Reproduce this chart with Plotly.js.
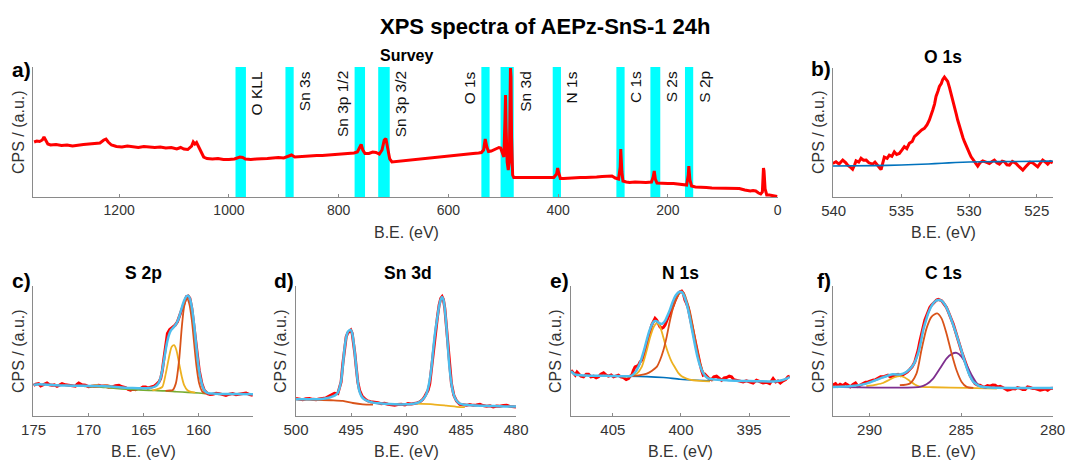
<!DOCTYPE html>
<html>
<head>
<meta charset="utf-8">
<script src="https://cdn.plot.ly/plotly-3.0.1.min.js"></script>
<style>
  html, body { margin: 0; padding: 0; background: #ffffff; }
  #chart { width: 1069px; height: 461px; }
</style>
</head>
<body>
<div id="chart"></div>
<script>
// ---------------- Survey spectrum ----------------
const surveyBE = [1355,1350,1345,1340,1337,1334,1330,1325,1315,1305,1295,1285,1275,1265,1255,1245,1235,1228,1224,1220,1214,1205,1195,1185,1175,1165,1155,1145,1135,1125,1115,1105,1095,1088,1082,1075,1068,1065,1062,1059,1055,1050,1046,1040,1030,1020,1010,1000,990,980,975,970,960,950,940,930,920,910,900,892,886,880,870,860,850,840,830,820,810,800,790,780,772,766,762,759,756,752,745,738,732,726,721,717,714,711,707,703,695,685,675,665,655,645,635,625,615,605,595,585,575,565,555,545,540,536,533,530,527,522,517,512,508,505,502,499,497,496,495,493,491,489,487,486,485,483,481,475,465,455,445,435,425,415,408,403,401,399,396,390,380,370,360,350,340,330,320,310,302,296,290,287,286,284,282,276,270,260,250,240,230,227,225,223,220,212,200,190,180,172,166,163,162,160,157,150,140,130,120,110,100,90,80,70,60,50,45,40,35,31,28,26,25,23,20,15,10,5,1];
const surveyCPS = [55,56,55.5,57,60,57,53,52,52.5,51.5,52,51,52,52.5,53,53.5,54,57,58,55,52,50.5,50,51,50,49.5,50.5,50,49.5,50,49,49.5,48,49.5,48,47.5,51,55,53,54.5,50,44,40,38.5,38,38.5,37.5,37.5,38,40,39.5,38,37.5,38,38,38.5,39,39.5,39,40.5,42,40,40.5,41,41,41.5,41.5,42,42,43,43.5,44,44,45,49,52.5,47,43.5,43.5,45,44.5,43,47,57,58.5,49,38,35,35.5,35.5,36.5,37,37.5,38,38.5,39.5,40,40.5,41,42,42.5,43,43.5,44,44.5,47,58,50,45.5,46,47,48,49.5,49,45,40,78,102,70,35,27,35,129,120,60,22,19.5,19.5,19,19.5,19,19.5,19,19,19.5,23,29,24,18.5,18.5,19,19,19.5,19.5,19.5,20,20.5,21,21,19,18,30,48,25,16,15,14.5,15,14.5,14.5,15,20,26,18,14,13.5,13.5,13.5,13,12.5,12,22,31,17,11,10,10,9.5,9,9,8.5,8.5,8.5,8.5,7,6,6.5,6,4,3,5,29,26,8,2,2,1.5,1,0.5];

// Marked regions of the survey (binding-energy windows) and their labels
const bandLabels = ['O KLL','Sn 3s','Sn 3p 1/2','Sn 3p 3/2','O 1s','Sn 3d','N 1s','C 1s','S 2s','S 2p'];
const bandHighBE = [988,897,771,728,540,505,410,294,232,169];
const bandLowBE  = [969,882,752,707,525,481,395,279,214,154];

// ---------------- O 1s ----------------
const o1sBE = [540.07,539.83,539.6,539.33,539.1,538.97,538.75,538.6,538.45,538.35,538.15,537.98,537.8,537.6,537.4,537.12,536.95,536.75,536.6,536.5,536.38,536.26,536.05,535.89,535.7,535.52,535.35,535.15,534.95,534.78,534.6,534.41,534.2,534.04,533.85,533.67,533.5,533.3,533.1,532.93,532.8,532.68,532.55,532.44,532.3,532.19,532.05,531.95,531.82,531.75,531.65,531.58,531.45,531.33,531.2,531.08,530.95,530.84,530.7,530.59,530.45,530.34,530.2,530.1,529.95,529.85,529.7,529.61,529.5,529.36,529.2,528.99,528.75,528.5,528.3,528.13,527.95,527.76,527.55,527.39,527.2,527.02,526.8,526.53,526.3,526.03,525.85,525.67,525.5,525.3,525.1,524.93,524.75,524.56,524.35,524.19,524.0,523.82];
const o1sCPS = [26,27.3,25.5,28.6,26.5,24.7,23,21.5,25,28,27,30,28.5,28.6,26.5,25.5,27,24,22.5,21.3,26,31,30,32.5,31.5,35,33,33.8,36.5,39,37.5,41.6,43,46.8,48.5,50.6,52,53.2,56,59.7,63,67.5,72,78,82,85.7,88,91,93,92,91,89.6,85,80.5,75,70,64.5,59.7,54,49.4,46,42.9,39,36.4,33.5,31.2,29,27.3,25.5,24,26.5,28,27,26,27.5,28.6,26.5,25.5,27.8,27.3,25,24.7,27.5,26,23.5,20.8,23,24.7,27,26.5,24.5,23.4,26,28.6,27,25.5,27.5,26.5];
const o1sBgBE  = [540.07,537,535,533,532,531,530,528,523.82];
const o1sBgCPS = [24,24.3,24.8,25.6,26.2,26.7,27.1,27.4,27.8];

// ---------------- S 2p ----------------
const s2pBE = [175.0,174.8,174.54,174.35,174.24,174.0,173.78,173.55,173.33,173.1,172.87,172.65,172.41,172.1,171.81,171.5,171.2,171.05,170.89,170.6,170.28,170.0,169.68,169.4,169.07,168.8,168.46,168.15,167.85,167.55,167.24,166.95,166.63,166.4,166.18,165.95,165.72,165.5,165.26,165.05,164.81,164.6,164.35,164.2,164.05,163.9,163.74,163.6,163.44,163.29,163.13,162.98,162.83,162.62,162.37,162.13,161.92,161.77,161.52,161.31,161.1,160.94,160.79,160.61,160.4,160.18,159.94,159.7,159.48,159.18,158.95,158.72,158.4,158.12,157.8,157.51,157.2,156.9,156.6,156.29,155.95,155.68,155.35,155.07];
const s2pCPS = [23.6,24.5,24.9,23.2,23.6,24.4,25.4,24,23.6,23.9,22.9,23.8,24.9,24,23.6,22.8,22.9,24.3,25.4,24,23.6,22.6,22.9,23.5,23.6,23,22.9,22.2,22.4,23.3,23.6,22.5,21.9,20.5,19.8,20.6,20.3,21.2,21.1,22.4,22.4,21.5,21.9,22.3,22.9,23.8,24.9,26.2,28.8,35.2,45.5,55.8,63.5,66.6,68.6,69.9,72.5,76.3,81.5,87.9,91.8,92.3,90.5,82.8,68.6,50.6,35.2,24.9,19.8,17.2,16.5,16.7,17.4,17.2,16.2,15.9,16.8,17.2,16.4,16.7,17.6,17.7,16.5,15.9];
const s2pFitBE = [175.0,174.5,174.0,173.5,173.0,172.0,171.0,170.0,169.0,168.5,168.0,167.0,166.0,165.0,164.5,164.0,163.7,163.5,163.3,163.1,162.9,162.7,162.5,162.3,162.1,161.9,161.7,161.5,161.3,161.1,160.95,160.8,160.6,160.4,160.2,160.0,159.8,159.6,159.4,159.1,158.5,157.5,156.5,155.0];
const s2pFit = [24.0,24.5,24.2,24.0,23.6,23.4,23.3,23.1,23.0,22.9,22.6,22.0,21.5,21.3,21.5,22.5,24.5,28,35,45,55,62,66,68,70,73,78,84,89,92,92.5,90.5,83,70,53,38,28,22,19,17.5,17.2,17.0,17.0,16.8];
const s2p32BE = [163.0,162.6,162.37,162.07,161.77,161.52,161.31,161.07,160.85,160.61,160.4,160.18,159.94,159.64,159.33];
const s2p32 = [19.4,19.6,19.8,24.9,42.9,68.6,84.1,90.5,86.6,73.8,55.8,37.8,24.9,18.5,17.2];
const s2p12BE = [164.2,163.59,163.29,162.98,162.68,162.44,162.22,162.01,161.77,161.52,161.31,161.01,160.7,160.3];
const s2p12 = [19.7,21.1,22.4,32.6,45.5,53.2,54.5,50.6,40.4,30.1,23.7,19.8,18.5,18.0];
const s2pOx32BE = [169.6,169.0,168.6,168.3,168.0,167.6,167.2];
const s2pOx32 = [22.3,22.8,23.6,23.8,23.2,22.2,21.7];
const s2pOx12BE = [170.4,169.9,169.5,169.2,168.9,168.5,168.0];
const s2pOx12 = [22.8,23.1,23.7,23.8,23.2,22.5,22.0];
const s2pBgBE = [170.0,169.07,168.0,167.0,166.0,165.0,164.0,163.0,162.0,161.0,160.0,159.33];
const s2pBg = [22.6,22.4,21.5,20.9,20.3,19.9,19.6,19.3,18.7,18.2,17.7,17.2];

// ---------------- Sn 3d ----------------
const sn3dBE = [500.0,499.7,499.39,499.1,498.78,498.5,498.18,497.9,497.57,497.3,497.11,496.81,496.5,496.2,496.05,495.9,495.74,495.59,495.44,495.29,495.14,495.02,494.89,494.77,494.65,494.53,494.38,494.22,493.98,493.7,493.47,493.2,492.86,492.55,492.25,491.95,491.64,491.35,491.03,490.75,490.43,490.1,489.82,489.5,489.21,489.0,488.75,488.5,488.3,488.15,487.99,487.84,487.69,487.54,487.33,487.14,486.99,486.84,486.72,486.6,486.47,486.32,486.17,486.02,485.87,485.65,485.41,485.11,484.8,484.5,484.2,483.89,483.6,483.28,483.0,482.67,482.35,482.07,481.75,481.46,481.15,480.85,480.55,480.24,480.0];
const sn3dCPS = [13.4,12.9,12.6,13.2,13.4,12.8,12.6,13.1,13.4,13.8,14.7,15.9,17.5,17.2,21.1,26.2,40.4,51.9,60.9,64.0,65.6,66.1,63.5,57.1,48.1,37.8,26.2,19.8,15.2,12.8,11.6,11.0,10.8,10.2,9.5,9.8,9.0,8.6,8.2,8.8,9.0,8.5,9.5,9.2,9.5,10.0,10.8,12.5,15,17.5,19.8,24.9,36.5,50.6,66.1,76.3,85.3,90.5,91.8,89.7,82.8,68.6,50.6,35.2,24.9,15.9,11.6,9.0,8.6,8.2,8.8,8.2,8.5,9.0,8.0,7.5,7.8,6.9,7.6,7.5,8.0,8.2,7.4,6.9,6.9];
const sn3dFitBE = [500.0,499.5,499.0,498.5,498.0,497.5,497.0,496.6,496.35,496.2,496.05,495.9,495.75,495.6,495.45,495.3,495.15,495.03,494.9,494.77,494.65,494.53,494.38,494.25,494.05,493.8,493.4,493.0,492.5,492.0,491.0,490.0,489.5,489.0,488.6,488.3,488.1,487.95,487.8,487.65,487.54,487.35,487.14,487.0,486.85,486.72,486.6,486.5,486.41,486.3,486.17,486.05,485.87,485.7,485.5,485.2,484.8,484.0,483.0,482.0,481.0,480.0];
const sn3dFit = [12.9,12.8,12.9,12.8,12.9,13.2,14.0,15.2,16.5,18,21.5,27,38,51,60,64.5,66,66.3,64,57,48,38,26,19.5,15.2,12.8,11.2,10.3,9.8,9.4,9.0,9.0,9.3,10.0,11.8,14.5,18,23,30,40,50,64.5,76.3,84,89.5,91.5,89.5,84.5,77,66,50.6,37.5,25,17.5,13,10,8.8,8.2,7.9,7.6,7.4,7.3];
const sn3dBg52BE = [500.0,496.81,495.74,494.83,493.92,493.0];
const sn3dBg52 = [12.9,12.1,11.6,10.0,9.0,8.7];
const sn3dBg32BE = [489.06,487.54,486.32,485.11,484.65];
const sn3dBg32 = [9.5,9.0,8.0,6.9,6.9];

// ---------------- N 1s ----------------
const n1sBE = [408.07,407.93,407.76,407.63,407.51,407.34,407.15,406.95,406.78,406.61,406.41,406.22,406.05,405.88,405.68,405.49,405.32,405.12,404.95,404.76,404.59,404.41,404.22,404.02,403.85,403.73,403.61,403.49,403.37,403.24,403.12,403.0,402.88,402.76,402.63,402.51,402.39,402.27,402.15,402.02,401.9,401.78,401.66,401.54,401.41,401.29,401.17,401.05,400.93,400.8,400.68,400.56,400.44,400.32,400.2,400.07,399.95,399.83,399.71,399.59,399.46,399.34,399.22,399.1,398.98,398.85,398.73,398.61,398.49,398.37,398.24,398.12,397.95,397.76,397.59,397.39,397.2,397.02,396.83,396.66,396.46,396.29,396.12,395.93,395.68,395.44,395.2,394.95,394.71,394.46,394.22,393.98,393.73,393.49,393.24,393.05,392.88,392.71,392.51,392.32,392.15,392.02];
const n1sCPS = [35.2,33.2,31.4,33.9,32.6,30.6,30.1,32.1,32.1,30.1,30.6,29.3,30.1,32.1,33.2,31.4,30.6,31.6,30.1,30.6,31.4,30.1,29.6,28.0,28.8,30.6,31.4,35.2,37.8,38.3,39.1,41.6,42.9,46.0,50.6,55.3,60.9,64.8,69.9,72.5,75.1,73.8,71.2,68.6,67.4,68.1,69.9,72.5,76.3,79.4,82.0,85.3,88.7,91.8,94.3,95.6,96.1,94.3,89.2,86.6,82.8,76.3,69.9,63.5,57.1,50.6,45.5,40.4,35.2,31.4,32.1,30.6,28.8,28.0,30.1,30.6,28.8,27.5,29.3,29.6,30.6,30.1,28.0,27.5,26.7,26.2,27.0,26.2,25.4,27.5,26.2,25.4,26.0,24.9,28.8,26.2,27.0,25.4,27.0,28.0,30.1,30.6];
const n1sFitBE = [408.07,407.8,407.5,407.0,406.5,406.0,405.5,405.0,404.5,404.0,403.7,403.5,403.3,403.1,402.9,402.7,402.5,402.3,402.1,401.95,401.8,401.6,401.45,401.3,401.15,401.0,400.8,400.6,400.4,400.2,400.07,399.95,399.8,399.6,399.4,399.2,399.0,398.8,398.6,398.4,398.2,398.0,397.7,397.3,396.5,395.5,394.5,393.5,393.0,392.6,392.3,392.02];
const n1sFit = [34.5,32,31.5,31.2,31,31,31,30.8,30.6,30.5,30.7,32,34.5,38.5,44,51,59,66,71,73,73,71.5,70.8,71.5,73.5,77,82,88,92.5,95,95.6,95.3,93,87,78,67,56,46,38.5,33.5,30.5,29,28.2,27.8,27.4,27,26.8,26.6,26.8,27.5,28.5,30];
const n1sAmineBE = [403.73,403.0,402.51,402.15,401.78,401.54,401.29,401.05,400.8,400.56,400.32,400.07,399.95,399.78,399.59,399.34,399.1,398.85,398.61,398.37,398.12,397.88,397.63];
const n1sAmine = [30.6,31.4,32.6,34.7,37.8,42.9,50.6,60.9,73.8,84.1,90.5,94.9,95.6,94.3,89.2,80.2,67.4,53.2,41.6,33.9,30.1,28.0,27.5];
const n1sHighBE = [404.22,403.73,403.24,402.88,402.51,402.27,402.02,401.78,401.59,401.41,401.17,400.93,400.68,400.44,400.2,399.95,399.59,399.1,398.61,397.88];
const n1sHigh = [30.1,30.6,32.6,37.8,50.6,60.4,68.1,71.2,69.9,64.8,55.8,48.1,41.6,37.3,33.2,30.6,28.8,27.5,27.0,26.7];
const n1sBgBE = [403.98,402.51,401.29,400.07,398.85,397.88];
const n1sBg = [30.6,30.3,29.6,28.3,27.5,27.0];

// ---------------- C 1s ----------------
const c1sBE = [292.01,291.86,291.74,291.61,291.46,291.32,291.19,291.06,290.91,290.77,290.64,290.49,290.37,290.22,290.09,289.96,289.82,289.67,289.54,289.4,289.27,289.12,289.0,288.87,288.72,288.57,288.45,288.32,288.21,288.08,287.95,287.81,287.68,287.53,287.44,287.35,287.26,287.17,287.07,286.98,286.89,286.8,286.71,286.62,286.53,286.44,286.34,286.25,286.16,286.07,285.98,285.89,285.8,285.7,285.61,285.52,285.43,285.34,285.25,285.16,285.06,284.97,284.88,284.79,284.7,284.61,284.52,284.42,284.33,284.24,284.11,283.97,283.82,283.69,283.56,283.42,283.27,283.14,283.02,282.87,282.72,282.6,282.47,282.32,282.18,282.05,281.92,281.77,281.63,281.5,281.37,281.23,281.08,280.95,280.82,280.68,280.53,280.4,280.27,280.13,279.98];
const c1sCPS = [23.7,24.9,22.9,24.4,23.4,24.9,23.9,22.4,24.2,25.4,22.9,23.9,24.9,26.0,26.2,27.0,27.5,28.0,28.8,30.1,30.1,31.1,31.4,30.1,30.6,31.6,32.1,31.1,31.4,32.6,33.7,35.7,37.8,41.6,45.5,50.6,57.1,63.5,68.6,73.8,77.6,81.5,83.5,85.3,86.6,87.9,89.2,89.7,89.2,88.7,87.1,85.3,83.5,80.2,77.6,73.8,70.7,66.1,62.2,58.4,53.7,49.4,45.5,41.6,37.8,33.9,31.4,28.8,26.2,24.9,23.9,23.7,22.4,22.4,23.4,22.9,23.9,23.7,22.4,22.9,21.9,21.1,19.8,20.3,21.1,20.8,21.9,21.3,20.3,20.3,22.4,21.9,21.1,21.1,20.3,19.8,20.3,20.8,19.8,21.1,21.3];
const c1sFitBE = [292.01,291.1,290.18,289.45,288.72,288.35,287.99,287.62,287.35,287.2,287.07,286.93,286.8,286.66,286.53,286.39,286.25,286.11,285.98,285.84,285.7,285.57,285.43,285.3,285.16,285.02,284.88,284.75,284.61,284.47,284.33,284.15,283.97,283.42,281.96,279.98];
const c1sFit = [22.4,22.9,24.9,28.8,32.1,31.9,33.9,39.1,48.1,57,66.1,73,78.9,83.5,86.6,88.5,89.2,88.9,87.4,84.5,80.2,75.5,69.9,64.5,58.4,52,45.5,39.5,33.9,29.5,26.2,24.2,22.9,21.9,21.6,21.6];
const c1sMainBE = [288.35,287.81,287.44,287.17,286.89,286.62,286.31,286.07,285.8,285.52,285.25,284.97,284.7,284.33];
const c1sMain = [23.7,24.9,32.6,50.6,67.4,76.3,78.9,75.1,63.5,48.1,35.2,26.2,22.4,21.6];
const c1sLowBE = [292.01,287.26,286.89,286.53,286.16,285.8,285.52,285.25,284.97,284.7,284.42,284.15,283.88,283.6];
const c1sLow = [22.4,22.4,24.4,28.8,36.5,44.2,47.6,48.6,45.5,39.1,31.4,25.4,22.4,21.6];
const c1sHighBE = [290.18,289.63,289.27,288.9,288.63,288.35,288.08,287.81,287.53,287.26,286.53,284.7,283.05];
const c1sHigh = [22.9,24.2,25.4,28.0,29.8,30.6,29.6,27.0,24.2,22.6,22.1,21.6,21.1];

// ---------------- tick values ----------------
const surveyTicks = [1200,1000,800,600,400,200,0];
const o1sTicks = [540,535,530,525];
const s2pTicks = [175,170,165,160];
const sn3dTicks = [500,495,490,485,480];
const n1sTicks = [405,400,395];
const c1sTicks = [290,285,280];

// ---------------- layout helpers ----------------
const W = 1069, H = 461;
const FONT = 'Liberation Sans, Arial, Helvetica, sans-serif';
const AXIS_GRAY = '#8a8a8a';
const TEXT_GRAY = '#333333';
const fx = p => p / W;
const fy = p => 1 - p / H;

const RED = '#ff0000', FIT = '#4dbeee', ORANGE = '#d95319', YELLOW = '#edb120',
      PURPLE = '#7e2f8e', BLUE = '#0072bd', GREEN = '#77ac30', BAND = '#00ffff';

// plot boxes in pixels: [left, right, top, bottom]
const boxes = {
  a: [33, 778, 67, 197],
  b: [833, 1053, 68, 197],
  c: [33, 253, 286, 416],
  d: [296, 516, 286, 416],
  e: [571, 790, 286, 416],
  f: [833, 1053, 286, 416]
};

function xAxis(box, range, ticks, yName, size) {
  return {
    domain: [fx(box[0]), fx(box[1])], range: range, anchor: yName,
    tickvals: ticks, ticks: 'inside', ticklen: 3, tickcolor: AXIS_GRAY, tickwidth: 1,
    showline: true, linecolor: AXIS_GRAY, linewidth: 1, mirror: false,
    showgrid: false, zeroline: false,
    tickfont: { family: FONT, size: size, color: TEXT_GRAY }
  };
}
function yAxis(box, range, xName) {
  return {
    domain: [fy(box[3]), fy(box[2])], range: range, anchor: xName,
    showticklabels: false, ticks: '', showline: true, linecolor: AXIS_GRAY,
    linewidth: 1, showgrid: false, zeroline: false
  };
}

function line(x, y, ax, color, width, smooth) {
  return {
    type: 'scatter', mode: 'lines', x: x, y: y,
    xaxis: ax[0], yaxis: ax[1], hoverinfo: 'skip', showlegend: false,
    line: smooth ? { color: color, width: width, shape: 'spline', smoothing: 0.7 }
                 : { color: color, width: width }
  };
}

const A = ['x', 'y'], B = ['x2', 'y2'], C = ['x3', 'y3'], D = ['x4', 'y4'], E = ['x5', 'y5'], F = ['x6', 'y6'];

const traces = [
  line(surveyBE, surveyCPS, A, RED, 3, false),

  line(o1sBE, o1sCPS, B, RED, 3, false),
  line(o1sBgBE, o1sBgCPS, B, BLUE, 1.6, true),

  line(s2pBE, s2pCPS, C, RED, 3, false),
  line(s2pBgBE, s2pBg, C, GREEN, 1.6, true),
  line(s2pOx12BE, s2pOx12, C, YELLOW, 1.6, true),
  line(s2pOx32BE, s2pOx32, C, ORANGE, 1.6, true),
  line(s2p12BE, s2p12, C, YELLOW, 1.8, true),
  line(s2p32BE, s2p32, C, ORANGE, 1.8, true),
  line(s2pFitBE, s2pFit, C, FIT, 2.5, true),

  line(sn3dBE, sn3dCPS, D, RED, 3, false),
  line(sn3dBg52BE, sn3dBg52, D, ORANGE, 1.8, true),
  line(sn3dBg32BE, sn3dBg32, D, YELLOW, 1.8, true),
  line(sn3dFitBE, sn3dFit, D, FIT, 2.5, true),

  line(n1sBE, n1sCPS, E, RED, 3, false),
  line(n1sBgBE, n1sBg, E, BLUE, 1.6, true),
  line(n1sHighBE, n1sHigh, E, YELLOW, 1.8, true),
  line(n1sAmineBE, n1sAmine, E, ORANGE, 1.8, true),
  line(n1sFitBE, n1sFit, E, FIT, 2.5, true),

  line(c1sBE, c1sCPS, F, RED, 3, false),
  line(c1sHighBE, c1sHigh, F, YELLOW, 1.8, true),
  line(c1sLowBE, c1sLow, F, PURPLE, 1.8, true),
  line(c1sMainBE, c1sMain, F, ORANGE, 1.8, true),
  line(c1sFitBE, c1sFit, F, FIT, 2.5, true)
];

// shaded survey windows and their rotated labels
const shapes = [];
const annotations = [];
bandLabels.forEach((label, i) => {
  shapes.push({
    type: 'rect', xref: 'x', yref: 'y domain', layer: 'below',
    x0: bandHighBE[i], x1: bandLowBE[i], y0: 0, y1: 1,
    fillcolor: BAND, line: { width: 0 }
  });
  // put the label on the left when the next window is too close on the right
  const next = i + 1 < bandLabels.length ? bandHighBE[i + 1] : -1e9;
  const crowded = bandLowBE[i] - next < 30;
  annotations.push({
    text: label, xref: 'x', yref: 'y domain',
    x: crowded ? bandHighBE[i] : bandLowBE[i], y: 1,
    xanchor: crowded ? 'right' : 'left', yanchor: 'top',
    xshift: crowded ? -1 : 1, yshift: -2,
    textangle: -90, showarrow: false,
    font: { family: FONT, size: 15.5, color: '#111111' }
  });
});

function note(text, x, y, size, opts) {
  return Object.assign({
    text: text, xref: 'paper', yref: 'paper', x: fx(x), y: fy(y),
    xanchor: 'center', yanchor: 'middle', showarrow: false,
    font: { family: FONT, size: size, color: '#000000' }
  }, opts || {});
}
const bold = t => '<b>' + t + '</b>';

annotations.push(
  note(bold('XPS spectra of AEPz-SnS-1 24h'), 546, 26, 22),
  note(bold('Survey'), 406, 56, 16),
  note(bold('O 1s'), 943, 57, 17.5),
  note(bold('S 2p'), 143, 273, 17.5),
  note(bold('Sn 3d'), 408, 273, 17.5),
  note(bold('N 1s'), 680, 273, 17.5),
  note(bold('C 1s'), 943, 273, 17.5),
  note(bold('a)'), 33, 70, 21, { xanchor: 'right' }),
  note(bold('b)'), 833, 68, 21, { xanchor: 'right' }),
  note(bold('c)'), 33, 280, 21, { xanchor: 'right' }),
  note(bold('d)'), 296, 280, 21, { xanchor: 'right' }),
  note(bold('e)'), 571, 280, 21, { xanchor: 'right' }),
  note(bold('f)'), 833, 280, 21, { xanchor: 'right' })
);

// axis titles
const titleFont = { family: FONT, size: 16, color: TEXT_GRAY };
[[18, 132], [818, 132], [18, 351], [280, 351], [555, 351], [818, 351]].forEach(p => {
  annotations.push(note('CPS / (a.u.)', p[0], p[1], 16, { textangle: -90, font: titleFont }));
});
[[406, 232], [943, 232], [143, 451], [406, 451], [680, 451], [943, 451]].forEach(p => {
  annotations.push(note('B.E. (eV)', p[0], p[1], 16, { font: titleFont }));
});

const layout = {
  width: W, height: H,
  margin: { l: 0, r: 0, t: 0, b: 0, pad: 0 },
  paper_bgcolor: '#ffffff', plot_bgcolor: '#ffffff',
  showlegend: false,
  xaxis:  xAxis(boxes.a, [1357, -0.5], surveyTicks, 'y', 14),
  yaxis:  yAxis(boxes.a, [0, 130], 'x'),
  xaxis2: xAxis(boxes.b, [540.05, 523.8], o1sTicks, 'y2', 15),
  yaxis2: yAxis(boxes.b, [0, 100], 'x2'),
  xaxis3: xAxis(boxes.c, [175.05, 155.05], s2pTicks, 'y3', 15),
  yaxis3: yAxis(boxes.c, [0, 100], 'x3'),
  xaxis4: xAxis(boxes.d, [500, 480], sn3dTicks, 'y4', 15),
  yaxis4: yAxis(boxes.d, [0, 100], 'x4'),
  xaxis5: xAxis(boxes.e, [408.07, 392.0], n1sTicks, 'y5', 15),
  yaxis5: yAxis(boxes.e, [0, 100], 'x5'),
  xaxis6: xAxis(boxes.f, [292.0, 279.98], c1sTicks, 'y6', 15),
  yaxis6: yAxis(boxes.f, [0, 100], 'x6'),
  shapes: shapes,
  annotations: annotations
};

Plotly.newPlot('chart', traces, layout, { displayModeBar: false, staticPlot: true });
</script>
</body>
</html>
